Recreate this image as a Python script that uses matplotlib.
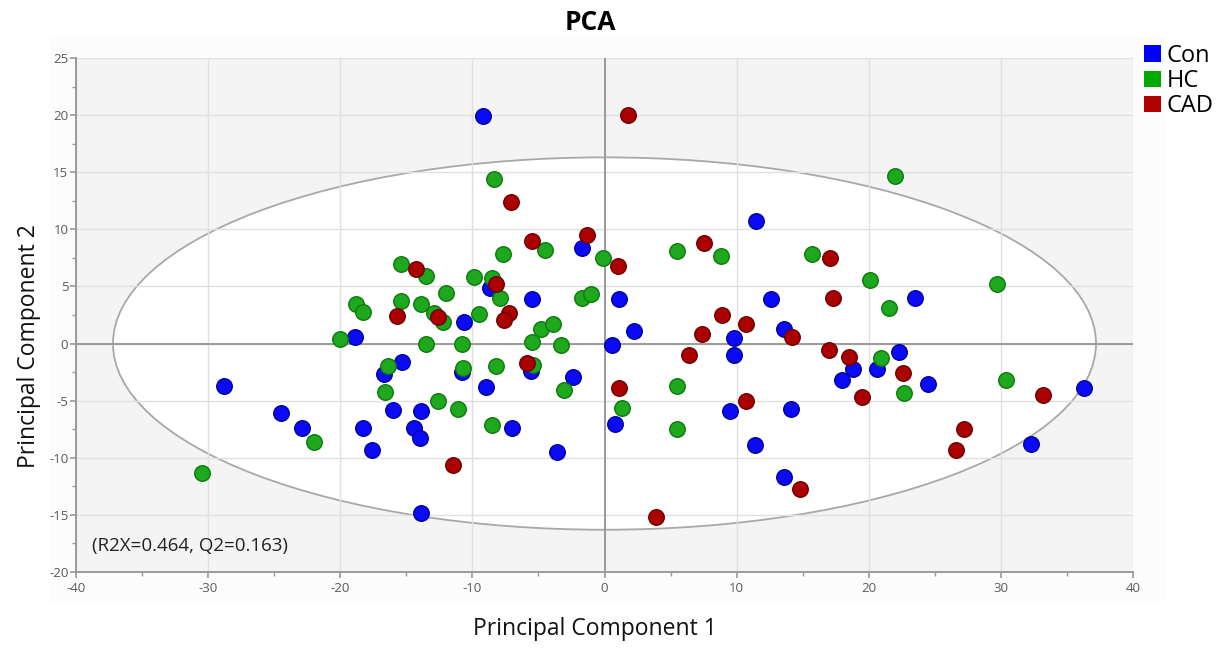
import matplotlib
matplotlib.use('Agg')
import matplotlib.pyplot as plt
from matplotlib.patches import Ellipse, Patch, Rectangle
from matplotlib.ticker import MultipleLocator

# Scores, one list per group (PC1, PC2)
con_pc1 = [-9.2, -28.8, -24.5, -22.9, -18.9, -16.7, -15.3, -16.0, -18.3, -17.6,
           -14.4, -13.9, -14.0, -13.9, -10.6, -10.8, -8.7, -9.0, -7.0, -5.5,
           -5.6, -2.4, -3.6, -1.7, 1.1, 0.6, 2.2, 0.8, 11.5, 12.6,
           9.8, 9.8, 9.5, 11.4, 13.6, 14.1, 13.6, 18.0, 18.8, 20.6,
           22.3, 23.5, 24.5, 32.3, 36.3]
con_pc2 = [19.9, -3.7, -6.1, -7.4, 0.6, -2.7, -1.6, -5.8, -7.4, -9.3,
           -7.4, -5.9, -8.3, -14.8, 1.9, -2.5, 4.9, -3.8, -7.4, 3.9,
           -2.4, -2.9, -9.5, 8.4, 3.9, -0.1, 1.1, -7.0, 10.7, 3.9,
           0.5, -1.0, -5.9, -8.9, 1.3, -5.7, -11.7, -3.2, -2.2, -2.2,
           -0.7, 4.0, -3.5, -8.8, -3.9]

hc_pc1 = [-30.5, -22.0, -20.0, -18.8, -18.3, -16.4, -16.6, -15.4, -13.5, -15.4,
          -13.9, -12.0, -12.9, -12.2, -13.5, -10.8, -10.7, -12.6, -11.1, -9.9,
          -9.5, -8.5, -7.9, -8.4, -7.7, -8.2, -8.5, -4.5, -4.8, -3.9,
          -5.5, -5.4, -3.3, -3.1, -1.7, -1.0, -0.1, 1.3, 5.5, 8.8,
          5.5, 5.5, 15.7, 20.1, 21.5, 22.0, 20.9, 22.7, 29.7, 30.4]
hc_pc2 = [-11.3, -8.6, 0.4, 3.5, 2.8, -2.0, -4.2, 7.0, 5.9, 3.7,
          3.5, 4.4, 2.7, 1.9, 0.0, 0.0, -2.1, -5.0, -5.7, 5.8,
          2.6, 5.7, 4.0, 14.4, 7.8, -2.0, -7.1, 8.2, 1.3, 1.7,
          0.1, -1.9, -0.1, -4.1, 4.0, 4.3, 7.5, -5.6, 8.1, 7.7,
          -3.7, -7.5, 7.8, 5.6, 3.1, 14.7, -1.3, -4.3, 5.2, -3.2]

cad_pc1 = [1.8, -7.1, -5.5, -1.3, 1.0, -14.3, -8.2, -15.7, -12.6, -7.2,
           -7.6, -5.9, -11.5, 1.1, 3.9, 6.4, 7.4, 7.5, 8.9, 10.7,
           10.7, 14.2, 14.8, 17.1, 17.3, 17.0, 18.5, 19.5, 22.6, 26.6,
           27.2, 33.2]
cad_pc2 = [20.0, 12.4, 9.0, 9.5, 6.8, 6.5, 5.2, 2.4, 2.3, 2.7,
           2.1, -1.7, -10.6, -3.9, -15.2, -1.0, 0.8, 8.8, 2.5, 1.7,
           -5.0, 0.6, -12.7, 7.5, 4.0, -0.6, -1.2, -4.7, -2.6, -9.3,
           -7.5, -4.5]

# Hotelling T2 ellipse half-axes
t2_a = 37.2
t2_b = 16.3

groups = ['Con', 'HC', 'CAD']
face_colors = ['#0a0af5', '#1ea81e', '#aa0000']
edge_colors = ['#0000a0', '#0c7a0c', '#6e0000']
legend_colors = ['#0000ff', '#00aa00', '#b00000']

plt.rcParams['font.family'] = ['Open Sans', 'DejaVu Sans']
plt.rcParams['axes.unicode_minus'] = False

fig = plt.figure(figsize=(12.23, 6.48), dpi=100)
fig.patch.set_facecolor('white')
# faint panel behind the plot and tick labels
fig.add_artist(Rectangle((50 / 1223, 1 - 602 / 648), 1115 / 1223, 565 / 648,
                         transform=fig.transFigure, facecolor='#fcfcfc',
                         edgecolor='none', zorder=-5))

ax = fig.add_axes([76 / 1223, 1 - 572 / 648, 1057 / 1223, 514 / 648])
ax.set_facecolor('#f4f4f4')
ax.set_xlim(-40, 40)
ax.set_ylim(-20, 25)

ax.add_patch(Ellipse((0, 0), 2 * t2_a, 2 * t2_b, facecolor='white',
                     edgecolor='#a8a8a8', lw=1.3, zorder=0.3))

ax.set_axisbelow(True)
ax.xaxis.set_major_locator(MultipleLocator(10))
ax.xaxis.set_minor_locator(MultipleLocator(5))
ax.yaxis.set_major_locator(MultipleLocator(5))
ax.yaxis.set_minor_locator(MultipleLocator(2.5))
ax.grid(True, which='major', color='#e0e0e0', lw=1.0)
ax.axhline(0, color='#9a9a9a', lw=1.4, zorder=0.6)
ax.axvline(0, color='#9a9a9a', lw=1.4, zorder=0.6)

for s in ['top', 'right']:
    ax.spines[s].set_visible(False)
for s in ['left', 'bottom']:
    ax.spines[s].set_color('#9a9a9a')
    ax.spines[s].set_linewidth(1.4)

ax.tick_params(which='major', length=4, width=1.2, color='#9a9a9a',
               labelsize=9.5, labelcolor='#5a5a5a')
ax.tick_params(which='minor', length=3, width=1.0, color='#9a9a9a')
ax.tick_params(axis='x', pad=3)
ax.tick_params(axis='y', pad=1.5)

pc1 = [con_pc1, hc_pc1, cad_pc1]
pc2 = [con_pc2, hc_pc2, cad_pc2]
for i in range(3):
    ax.scatter(pc1[i], pc2[i], s=125, c=face_colors[i], edgecolors=edge_colors[i],
               linewidths=1.0, zorder=3 + i)

ax.text(-38.8, -17.7, '(R2X=0.464, Q2=0.163)', fontsize=13.5, color='#222222',
        ha='left', va='center')

ax.set_xlabel('Principal Component 1', fontsize=16.5, color='#111111')
ax.set_ylabel('Principal Component 2', fontsize=16.5, color='#111111')
ax.xaxis.set_label_coords(0.491, -0.088)
ax.yaxis.set_label_coords(-0.033, 0.44)

fig.text(590 / 1223, 1 - 22 / 648, 'PCA', fontsize=19, fontweight='bold',
         ha='center', va='center')

handles = [Patch(facecolor=c, edgecolor='none', label=g)
           for g, c in zip(groups, legend_colors)]
fig.legend(handles=handles, loc='upper left', bbox_to_anchor=(1144 / 1223, 1 - 44 / 648),
           frameon=False, fontsize=17, handlelength=0.7, handleheight=0.7,
           handletextpad=0.25, labelspacing=0.05, borderpad=0, borderaxespad=0)

fig.savefig('out.png', dpi=100)
